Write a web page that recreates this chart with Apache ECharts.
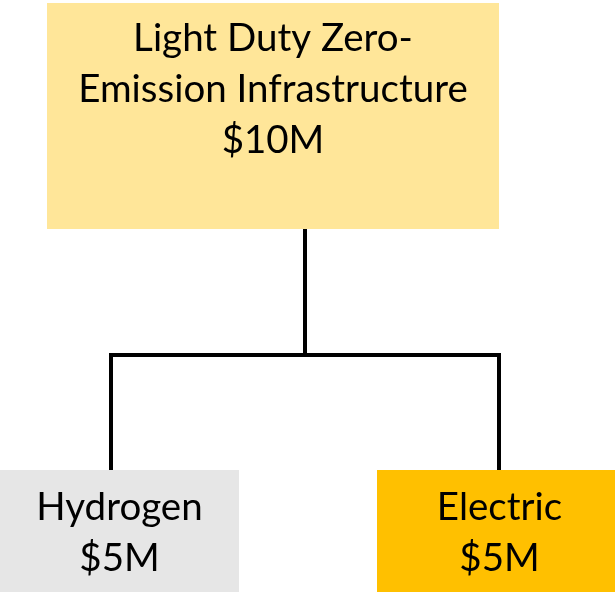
<!DOCTYPE html>
<html><head><meta charset="utf-8">
<script src="https://cdn.jsdelivr.net/npm/echarts@6/dist/echarts.min.js"></script>
<style>html,body{margin:0;padding:0;background:#fff}#c{width:615px;height:592px}</style>
</head><body><div id="c"></div>
<script>
// Data
const nodeNames = ['Light Duty Zero-Emission Infrastructure', 'Hydrogen', 'Electric'];
const fundingMillions = [10, 5, 5];

const FONT = 'Lato';
const FS = 38.5;

function labelText(name, value) {
  return name.replace('Zero-', 'Zero-\n') + '\n$' + value + 'M';
}

const treeData = {
  name: nodeNames[0],
  value: fundingMillions[0],
  symbolSize: [452, 226],
  symbolOffset: [-32, 0],
  itemStyle: { color: '#FFE699' },
  label: { offset: [0, -26] },
  children: [
    { name: nodeNames[1], value: fundingMillions[1], symbolSize: [239, 126], symbolOffset: [8.5, 0], itemStyle: { color: '#E6E6E6' } },
    { name: nodeNames[2], value: fundingMillions[2], symbolSize: [245, 126], symbolOffset: [0.5, 0], itemStyle: { color: '#FFC000' } }
  ]
};

const chart = echarts.init(document.getElementById('c'), null, { renderer: 'canvas' });
chart.setOption({
  animation: false,
  backgroundColor: '#fff',
  series: [{
    type: 'tree',
    data: [treeData],
    layout: 'orthogonal',
    orient: 'TB',
    left: -83, right: -78, top: 116, bottom: 59,
    edgeShape: 'polyline',
    edgeForkPosition: '57.314%',
    initialTreeDepth: -1,
    expandAndCollapse: false,
    roam: false,
    symbol: 'rect',
    itemStyle: { borderWidth: 0 },
    lineStyle: { color: '#000', width: 4 },
    label: {
      show: true,
      position: 'inside',
      color: '#000',
      fontFamily: FONT,
      fontSize: FS,
      lineHeight: 51,
      formatter: p => labelText(p.name, p.value)
    },
    leaves: { label: { position: 'inside' } },
    emphasis: { disabled: true }
  }]
});
</script></body></html>
